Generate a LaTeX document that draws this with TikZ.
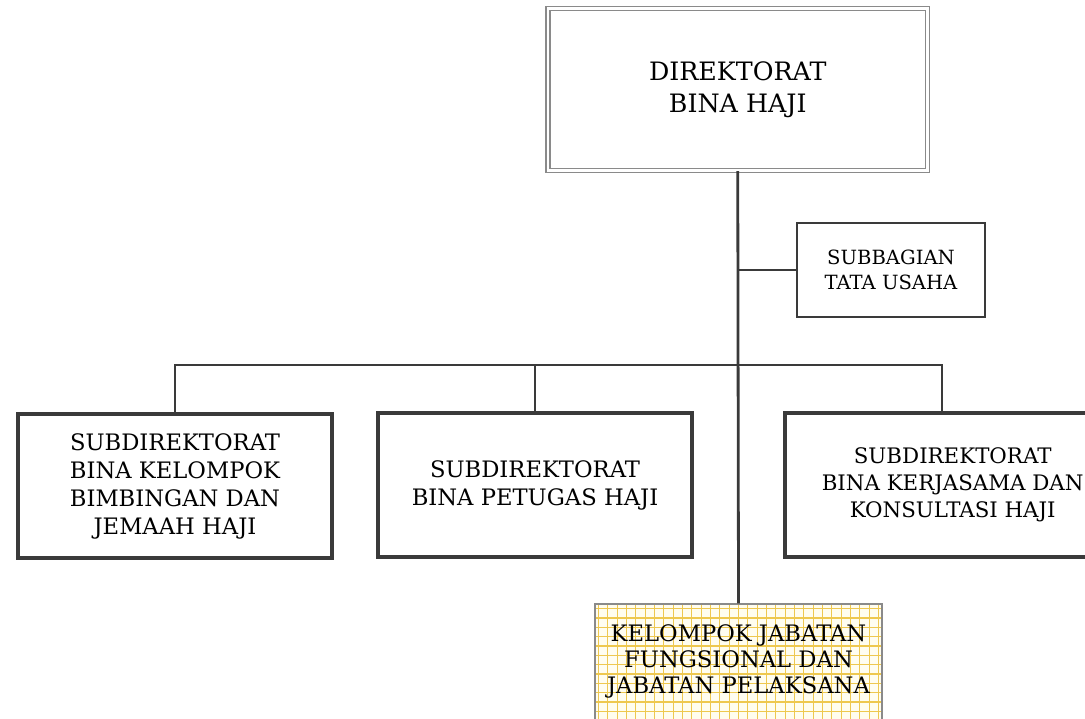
\documentclass[tikz,border=0pt]{standalone}
\usepackage{fontspec}
\setmainfont{DejaVu Serif}
\begin{document}
\begin{tikzpicture}[x=0.75pt,y=-0.75pt,
  box/.style={draw=boxgray, line width=2.6pt, align=center, inner sep=0pt, text=black, font=\fontsize{17}{21}\selectfont},
  conn/.style={draw=boxgray, line width=2.1pt},
  dirbox/.style={draw=dirgray, double=white, line width=0.9pt, double distance=2.1pt, align=center, inner sep=0pt, text=black, font=\fontsize{19}{24}\selectfont},
  gridline/.style={draw=gridyellow, line width=0.9pt}
]
\definecolor{boxgray}{HTML}{3A3A3A}
\definecolor{dirgray}{HTML}{8A8A8A}
\definecolor{gridyellow}{HTML}{EEC850}
\definecolor{cream}{HTML}{FFFDF0}
\clip (0,0) rectangle (1085,718);
\fill[white] (0,0) rectangle (1085,718);

\node[dirbox, minimum width=284.6pt, minimum height=121.5pt] (dir) at (737.75,89.5) {DIREKTORAT\\BINA HAJI};

\node[box, line width=2.1pt, minimum width=141pt, minimum height=70.5pt, font=\fontsize{14.7}{18.75}\selectfont] (tu) at (891,270) {SUBBAGIAN\\TATA USAHA};

\node[box, minimum width=235.5pt, minimum height=108pt] (b1) at (175,486) {SUBDIREKTORAT\\BINA KELOMPOK\\BIMBINGAN DAN\\JEMAAH HAJI};
\node[box, minimum width=235.5pt, minimum height=108pt] (b2) at (535,485) {SUBDIREKTORAT\\BINA PETUGAS HAJI};
\node[box, minimum width=235.5pt, minimum height=108pt, font=\fontsize{16}{20.25}\selectfont] (b3) at (942,485) {\hspace*{16pt}SUBDIREKTORAT\\\hspace*{16pt}BINA KERJASAMA DAN\\\hspace*{16pt}KONSULTASI HAJI};

\node[draw=dirgray, line width=0.8pt, fill=cream, minimum width=215.25pt, minimum height=105pt, inner sep=0pt,
  path picture={\draw[gridline, step=7pt] (path picture bounding box.south west) grid (path picture bounding box.north east);}] (kjf) at (738.5,674) {};
\node[align=center, text=black, font=\fontsize{17}{19.5}\selectfont] (kjft) at (738.5,661) {KELOMPOK JABATAN\\FUNGSIONAL DAN\\JABATAN PELAKSANA};

\coordinate (bus) at (738,365);
\draw[conn] (dir.south) -- (kjf.north);
\draw[conn] (tu.west) -- (tu.west -| dir.south);
\draw[conn] (b1.north) |- (bus);
\draw[conn] (b3.north) |- (bus);
\draw[conn] (b2.north) -- (b2.north |- bus);
\end{tikzpicture}
\end{document}
